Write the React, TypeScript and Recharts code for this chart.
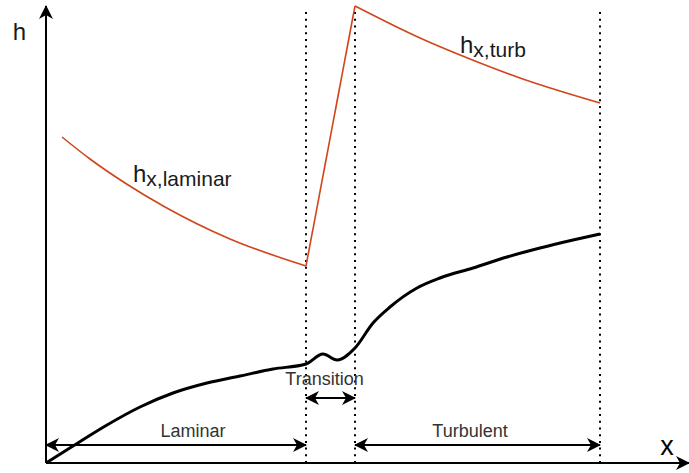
import { LineChart, Line, XAxis, YAxis, ReferenceLine, ReferenceDot } from 'recharts';

// schematic units: x = distance along plate, y = value (h or thickness)
const laminarH = [
  { x: 16, y: 326 },
  { x: 44, y: 304 },
  { x: 79, y: 280 },
  { x: 119, y: 256 },
  { x: 184, y: 224 },
  { x: 260, y: 197 },
];
const transitionH = [
  { x: 260, y: 197 },
  { x: 309, y: 457 },
];
const turbH = [
  { x: 309, y: 457 },
  { x: 374, y: 425 },
  { x: 424, y: 404 },
  { x: 474, y: 385 },
  { x: 554, y: 360 },
];
const thickness = [
  { x: 0, y: 0 },
  { x: 27, y: 17 },
  { x: 61, y: 38 },
  { x: 94, y: 56 },
  { x: 127, y: 70 },
  { x: 161, y: 80 },
  { x: 194, y: 87 },
  { x: 227, y: 94 },
  { x: 260, y: 99 },
  { x: 277, y: 109 },
  { x: 291, y: 103 },
  { x: 309, y: 115 },
  { x: 327, y: 140 },
  { x: 344, y: 156 },
  { x: 371, y: 175 },
  { x: 394, y: 185 },
  { x: 427, y: 195 },
  { x: 461, y: 206 },
  { x: 494, y: 215 },
  { x: 527, y: 223 },
  { x: 554, y: 229 },
];
const boundaries = [260, 309, 554];
const regions = [
  { name: 'Laminar', from: 0, to: 260, y: 18, labelX: 147, labelY: 26 },
  { name: 'Transition', from: 260, to: 309, y: 65, labelX: 278.5, labelY: 78 },
  { name: 'Turbulent', from: 309, to: 554, y: 18, labelX: 424, labelY: 26 },
];

const X_MAX = 643;
const Y_MAX = 460;
const ORANGE = '#d0461a';
const FONT = '"Liberation Sans", Arial, Helvetica, sans-serif';

const arrowLine = (start: boolean, end: boolean) => (p: any) => (
  <line
    x1={p.x1}
    y1={p.y1}
    x2={p.x2}
    y2={p.y2}
    stroke="#000"
    strokeWidth={2}
    markerStart={start ? 'url(#arrowHead)' : undefined}
    markerEnd={end ? 'url(#arrowHead)' : undefined}
  />
);

const textAt = (content: any, anchor: string = 'middle', size = 18, fill = '#333') => (p: any) => (
  <text x={p.cx} y={p.cy} textAnchor={anchor} fontFamily={FONT} fontSize={size} fill={fill}>
    {content}
  </text>
);

const subLabel = (main: string, sub: string) => (
  <>
    <tspan fontSize={24}>{main}</tspan>
    <tspan fontSize={21} dy={4}>{sub}</tspan>
  </>
);

export default function App() {
  return (
    <div style={{ position: 'absolute', left: 0, top: 0, background: '#fff' }}>
      <LineChart width={689} height={473} margin={{ top: 3, right: 0, bottom: 10, left: 46 }}>
        <defs>
          <marker
            id="arrowHead"
            viewBox="0 -8 15 16"
            refX={13}
            refY={0}
            markerWidth={15}
            markerHeight={16}
            markerUnits="userSpaceOnUse"
            orient="auto-start-reverse"
          >
            <path d="M0,-7 L14,0 L0,7 L4,0 Z" fill="#000" />
          </marker>
        </defs>
        <XAxis type="number" dataKey="x" domain={[0, X_MAX]} hide allowDataOverflow />
        <YAxis type="number" dataKey="y" domain={[0, Y_MAX]} hide allowDataOverflow />

        {boundaries.map((b) => (
          <ReferenceLine
            key={b}
            segment={[{ x: b, y: 0 }, { x: b, y: 453 }]}
            stroke="#000"
            strokeWidth={2}
            strokeDasharray="2 4.7"
          />
        ))}

        {/* axes */}
        <ReferenceLine segment={[{ x: 0, y: 0 }, { x: X_MAX, y: 0 }]} shape={arrowLine(false, true)} />
        <ReferenceLine segment={[{ x: 0, y: 0 }, { x: 0, y: 457 }]} shape={arrowLine(false, true)} />

        {regions.map((r) => (
          <ReferenceLine
            key={r.name}
            segment={[{ x: r.from, y: r.y }, { x: r.to, y: r.y }]}
            shape={arrowLine(true, true)}
          />
        ))}
        {regions.map((r) => (
          <ReferenceDot key={r.name + 'l'} x={r.labelX} y={r.labelY} r={0} shape={textAt(r.name)} />
        ))}

        <Line data={laminarH} dataKey="y" type="monotone" stroke={ORANGE} strokeWidth={1.6} dot={false} isAnimationActive={false} />
        <Line data={transitionH} dataKey="y" type="linear" stroke={ORANGE} strokeWidth={1.6} dot={false} isAnimationActive={false} />
        <Line data={turbH} dataKey="y" type="monotone" stroke={ORANGE} strokeWidth={1.6} dot={false} isAnimationActive={false} />
        <Line data={thickness} dataKey="y" type="monotone" stroke="#000" strokeWidth={3} dot={false} isAnimationActive={false} />

        <ReferenceDot x={87} y={281} r={0} shape={textAt(subLabel('h', 'x,laminar'), 'start', 24, '#1a1a1a')} />
        <ReferenceDot x={414} y={410} r={0} shape={textAt(subLabel('h', 'x,turb'), 'start', 24, '#1a1a1a')} />
        <ReferenceDot x={-26.5} y={423} r={0} ifOverflow="visible" shape={textAt('h', 'middle', 24, '#1a1a1a')} />
        <ReferenceDot x={621} y={8} r={0} shape={textAt('x', 'middle', 27, '#000')} />
      </LineChart>
    </div>
  );
}
